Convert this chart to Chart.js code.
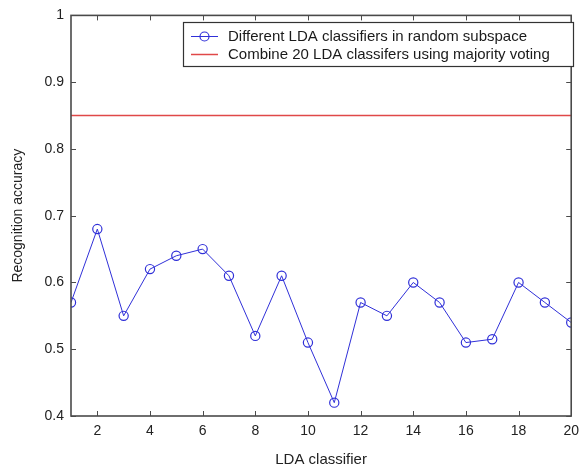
<!DOCTYPE html>
<html>
<head>
<meta charset="utf-8">
<script src="https://cdn.jsdelivr.net/npm/chart.js@4"></script>
<style>
  html, body { margin: 0; padding: 0; background: #fff; }
  #wrap { width: 586px; height: 469px; }
</style>
</head>
<body>
<div id="wrap"><canvas id="c" width="586" height="469"></canvas></div>
<script>
// values
const classifierIds = [1, 2, 3, 4, 5, 6, 7, 8, 9, 10, 11, 12, 13, 14, 15, 16, 17, 18, 19, 20];
const accuracy = [0.57, 0.68, 0.55, 0.62, 0.64, 0.65, 0.61, 0.52, 0.61, 0.51,
                  0.42, 0.57, 0.55, 0.60, 0.57, 0.51, 0.515, 0.60, 0.57, 0.54];
const combinedAccuracy = 0.85;
const xTicks = [2, 4, 6, 8, 10, 12, 14, 16, 18, 20];
const yTicks = [0.4, 0.5, 0.6, 0.7, 0.8, 0.9, 1];
const seriesNames = ['Different LDA classifiers in random subspace',
                     'Combine 20 LDA classifers using majority voting'];

const BLUE = '#3030d8';
const RED = '#e04848';
const AXIS = '#4a4a4a';
const FONT = '"Liberation Sans", Arial, sans-serif';

// matlab style box with ticks pointing inward + legend in the corner
const matlabBox = {
  id: 'matlabBox',
  afterDatasetsDraw(chart) {
    const { ctx, chartArea: a, scales } = chart;
    const tl = 5;
    ctx.save();
    ctx.strokeStyle = AXIS;
    ctx.lineWidth = 1.6;
    ctx.strokeRect(a.left, a.top, a.right - a.left, a.bottom - a.top);
    ctx.lineWidth = 1;
    ctx.beginPath();
    xTicks.forEach(v => {
      const x = Math.round(scales.x.getPixelForValue(v)) + 0.5;
      ctx.moveTo(x, a.bottom); ctx.lineTo(x, a.bottom - tl);
      ctx.moveTo(x, a.top); ctx.lineTo(x, a.top + tl);
    });
    yTicks.forEach(v => {
      const y = Math.round(scales.y.getPixelForValue(v)) + 0.5;
      ctx.moveTo(a.left, y); ctx.lineTo(a.left + tl, y);
      ctx.moveTo(a.right, y); ctx.lineTo(a.right - tl, y);
    });
    ctx.stroke();

    // legend
    const bx = 183.5, by = 22.5, bw = 390, bh = 44;
    ctx.fillStyle = '#fff';
    ctx.fillRect(bx, by, bw, bh);
    ctx.strokeStyle = '#333';
    ctx.lineWidth = 1.2;
    ctx.strokeRect(bx, by, bw, bh);
    const rows = [by + 13, by + 31];
    ctx.font = '15px ' + FONT;
    ctx.textBaseline = 'middle';
    ctx.fillStyle = '#1a1a1a';
    seriesNames.forEach((name, i) => {
      const ly = Math.round(rows[i]) + 0.5;
      ctx.beginPath();
      ctx.strokeStyle = i === 0 ? BLUE : RED;
      ctx.lineWidth = i === 0 ? 1 : 1.5;
      ctx.moveTo(191, ly); ctx.lineTo(218, ly);
      ctx.stroke();
      if (i === 0) {
        ctx.beginPath();
        ctx.lineWidth = 1.2;
        ctx.arc(204.5, ly, 4.5, 0, Math.PI * 2);
        ctx.stroke();
      }
      ctx.fillText(name, 228, rows[i] + 1);
    });
    ctx.restore();
  }
};

new Chart(document.getElementById('c'), {
  type: 'line',
  data: {
    datasets: [
      {
        label: seriesNames[0],
        data: classifierIds.map((id, i) => ({ x: id, y: accuracy[i] })),
        borderColor: BLUE,
        borderWidth: 1,
        pointStyle: 'circle',
        pointRadius: 4.6,
        pointBorderWidth: 1.2,
        pointBorderColor: BLUE,
        pointBackgroundColor: 'rgba(0,0,0,0)',
        tension: 0
      },
      {
        label: seriesNames[1],
        data: [classifierIds[0], classifierIds[classifierIds.length - 1]].map(id => ({ x: id, y: combinedAccuracy })),
        borderColor: RED,
        borderWidth: 1.6,
        pointRadius: 0,
        tension: 0
      }
    ]
  },
  options: {
    responsive: false,
    animation: false,
    layout: { padding: { left: 0, right: 6, top: 14, bottom: 0 } },
    plugins: { legend: { display: false }, tooltip: { enabled: false } },
    scales: {
      x: {
        type: 'linear',
        min: 1,
        max: 20,
        afterBuildTicks: s => { s.ticks = xTicks.map(v => ({ value: v })); },
        afterFit: s => { s.height = 53; },
        grid: { display: false, drawTicks: false },
        border: { display: false },
        ticks: { color: '#222', font: { family: FONT, size: 14 }, padding: 7, maxRotation: 0 },
        title: { display: true, text: 'LDA classifier', color: '#222', font: { family: FONT, size: 15 }, padding: { top: 5, bottom: 0 } }
      },
      y: {
        min: 0.4,
        max: 1,
        afterBuildTicks: s => { s.ticks = yTicks.map(v => ({ value: v })); },
        afterFit: s => { s.width = 71; },
        grid: { display: false, drawTicks: false },
        border: { display: false },
        ticks: { color: '#222', font: { family: FONT, size: 14 }, padding: 7, callback: v => String(Math.round(v * 10) / 10) },
        title: { display: true, text: 'Recognition accuracy', color: '#222', font: { family: FONT, size: 14 }, padding: { top: 10, bottom: 4 } }
      }
    }
  },
  plugins: [matlabBox]
});
</script>
</body>
</html>
